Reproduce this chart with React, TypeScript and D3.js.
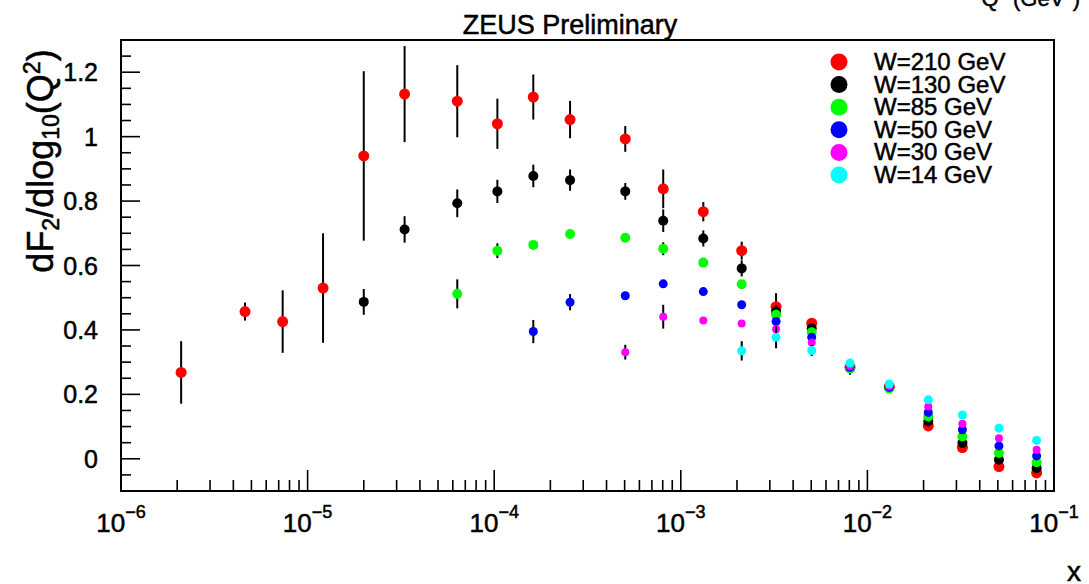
import React from "react";
import * as d3 from "d3";

// Bjorken-x bin centres shared by all W series
const xBins = [
  2.1e-6, 4.62e-6, 7.35e-6, 1.21e-5, 2.0e-5, 3.31e-5, 6.34e-5, 1.04e-4, 1.62e-4, 2.55e-4, 5.04e-4,
  8.05e-4, 1.32e-3, 2.12e-3, 3.24e-3, 5.03e-3, 8.07e-3, 1.31e-2, 2.12e-2, 3.23e-2, 5.07e-2, 8.07e-2,
];

// dF2/dlog10(Q2) per W value (null = no measurement in that bin)
const w210 = [0.268, 0.457, 0.426, 0.53, 0.94, 1.132, 1.11, 1.04, 1.123, 1.053, 0.993, 0.838, 0.767, 0.646, 0.472, 0.421, 0.284, 0.224, 0.102, 0.035, -0.024, -0.044];
const w210Err = [0.097, 0.028, 0.097, 0.17, 0.263, 0.149, 0.112, 0.078, 0.07, 0.058, 0.04, 0.06, 0.03, 0.028, 0.042, 0.015, 0.012, 0.01, 0.012, 0.012, 0.012, 0.015];

const w130 = [null, null, null, null, 0.487, 0.712, 0.793, 0.83, 0.878, 0.865, 0.83, 0.739, 0.684, 0.591, 0.457, 0.405, 0.281, 0.22, 0.116, 0.049, -0.003, -0.029];
const w130Err = [null, null, null, null, 0.04, 0.041, 0.043, 0.036, 0.035, 0.033, 0.026, 0.035, 0.025, 0.025, 0.02, 0.012, 0.02, 0.008, 0.01, 0.01, 0.01, 0.012];

const w85 = [null, null, null, null, null, null, 0.512, 0.646, 0.664, 0.698, 0.686, 0.652, 0.609, 0.542, 0.447, 0.393, 0.28, 0.218, 0.131, 0.069, 0.018, -0.011];
const w85Err = [null, null, null, null, null, null, 0.045, 0.023, 0.012, 0.01, 0.01, 0.02, 0.012, 0.012, 0.012, 0.01, 0.01, 0.008, 0.01, 0.01, 0.01, 0.01];

const w50 = [null, null, null, null, null, null, null, null, 0.395, 0.486, 0.506, 0.543, 0.519, 0.478, 0.426, 0.377, 0.284, 0.222, 0.144, 0.09, 0.04, 0.009];
const w50Err = [null, null, null, null, null, null, null, null, 0.036, 0.025, 0.01, 0.012, 0.01, 0.01, 0.01, 0.01, 0.01, 0.008, 0.01, 0.01, 0.01, 0.01];

const w30 = [null, null, null, null, null, null, null, null, null, null, 0.331, 0.441, 0.429, 0.42, 0.402, 0.361, 0.287, 0.225, 0.162, 0.109, 0.064, 0.028];
const w30Err = [null, null, null, null, null, null, null, null, null, null, 0.023, 0.037, 0.01, 0.01, 0.01, 0.01, 0.01, 0.008, 0.01, 0.01, 0.01, 0.01];

const w14 = [null, null, null, null, null, null, null, null, null, null, null, null, null, 0.335, 0.377, 0.336, 0.297, 0.232, 0.183, 0.136, 0.095, 0.057];
const w14Err = [null, null, null, null, null, null, null, null, null, null, null, null, null, 0.03, 0.034, 0.017, 0.012, 0.01, 0.01, 0.01, 0.01, 0.01];

const seriesLabels = ["W=210 GeV", "W=130 GeV", "W=85 GeV", "W=50 GeV", "W=30 GeV", "W=14 GeV"];
const seriesColors = ["#ff0000", "#000000", "#00ff00", "#0000ff", "#ff00ff", "#00ffff"];
const seriesValues = [w210, w130, w85, w50, w30, w14];
const seriesErrors = [w210Err, w130Err, w85Err, w50Err, w30Err, w14Err];
const markerRadius = [5.5, 5, 5, 4.5, 4, 4.5];

const xDomain = [1e-6, 1e-1];
const yDomain = [-0.1, 1.3];
const yTickLabels = ["0", "0.2", "0.4", "0.6", "0.8", "1", "1.2"];

const WIDTH = 1089;
const HEIGHT = 584;
const FONT = "'Liberation Sans', Arial, Helvetica, sans-serif";
// slight outline gives the heavier pixel-font look of the original plotting package
const heavy = { stroke: "#000", strokeWidth: 0.5 };

export default function App() {
  const left = 121, right = 1054, top = 40, bottom = 491;
  const x = d3.scaleLog().domain(xDomain).range([left, right]);
  const y = d3.scaleLinear().domain(yDomain).range([bottom, top]);

  const xTicks = x.ticks();
  const yTicks = d3.range(-0.1, 1.3001, 0.05).map((v) => Math.round(v * 100) / 100);

  return (
    <div style={{ position: "absolute", left: 0, top: 0 }}>
      <svg width={WIDTH} height={HEIGHT} style={{ display: "block", background: "#fff" }} fontFamily={FONT}>
        <rect x={0} y={0} width={WIDTH} height={HEIGHT} fill="#fff" />

        {/* partially visible header text at the top right */}
        <text x={1080} y={6} textAnchor="end" fontSize={22} fill="#000" {...heavy}>
          Q<tspan dy={-8} fontSize={15}>2</tspan>
          <tspan dy={8}> (GeV</tspan>
          <tspan dy={-8} fontSize={15}>2</tspan>
          <tspan dy={8}>)</tspan>
        </text>

        {/* title */}
        <text x={570} y={34} textAnchor="middle" fontSize={27} fill="#000" {...heavy}>
          ZEUS Preliminary
        </text>

        {/* x ticks */}
        {xTicks.map((t, i) => {
          const mant = Math.round(t / Math.pow(10, Math.floor(Math.log10(t) + 1e-9)));
          const major = mant === 1;
          const px = x(t);
          return (
            <line key={"xt" + i} x1={px} x2={px} y1={bottom} y2={bottom - (major ? 21 : 11)} stroke="#000" strokeWidth={1.6} />
          );
        })}
        {xTicks
          .filter((t) => Math.abs(Math.log10(t) - Math.round(Math.log10(t))) < 1e-6)
          .map((t, i) => (
            <text key={"xl" + i} x={x(t)} y={532} textAnchor="middle" fontSize={26} fill="#000" {...heavy}>
              10
              <tspan dy={-14} fontSize={18}>
                {"\u2212" + Math.abs(Math.round(Math.log10(t)))}
              </tspan>
            </text>
          ))}

        {/* y ticks */}
        {yTicks.map((t, i) => {
          const major = Math.abs(t / 0.2 - Math.round(t / 0.2)) < 1e-6;
          const py = y(t);
          return (
            <line key={"yt" + i} x1={left} x2={left + (major ? 19 : 10)} y1={py} y2={py} stroke="#000" strokeWidth={1.6} />
          );
        })}
        {yTickLabels.map((lab, i) => (
          <text key={"yl" + i} x={98} y={y(+lab)} dy="0.36em" textAnchor="end" fontSize={25} fill="#000" {...heavy}>
            {lab}
          </text>
        ))}

        {/* axis titles */}
        <text transform="translate(53,161) rotate(-90)" textAnchor="middle" fontSize={36} fill="#000" {...heavy}>
          dF
          <tspan dy={6} fontSize={23}>2</tspan>
          <tspan dy={-6}>/dlog</tspan>
          <tspan dy={6} fontSize={23}>10</tspan>
          <tspan dy={-6}>(Q</tspan>
          <tspan dy={-13} fontSize={23}>2</tspan>
          <tspan dy={13}>)</tspan>
        </text>
        <text x={1074} y={581} textAnchor="middle" fontSize={28} fill="#000" {...heavy}>
          x
        </text>

        {/* data: error bars then markers, drawn series by series */}
        {seriesValues.map((vals, s) => (
          <g key={"s" + s}>
            {vals.map((v, i) => {
              if (v === null) return null;
              const e = seriesErrors[s][i] ?? 0;
              const px = x(xBins[i]);
              return (
                <g key={i}>
                  <line x1={px} x2={px} y1={y(v - e)} y2={y(v + e)} stroke="#000" strokeWidth={2} />
                  <circle cx={px} cy={y(v)} r={markerRadius[s]} fill={seriesColors[s]} />
                </g>
              );
            })}
          </g>
        ))}

        {/* legend */}
        {seriesLabels.map((lab, i) => {
          const cy = 62 + i * 22.6;
          return (
            <g key={"lg" + i}>
              <circle cx={839} cy={cy} r={8.5} fill={seriesColors[i]} />
              <text x={874} y={cy + 8} fontSize={24} fill="#000" {...heavy}>
                {lab}
              </text>
            </g>
          );
        })}

        {/* frame */}
        <rect x={left} y={top} width={right - left} height={bottom - top} fill="none" stroke="#000" strokeWidth={2} />
      </svg>
    </div>
  );
}
